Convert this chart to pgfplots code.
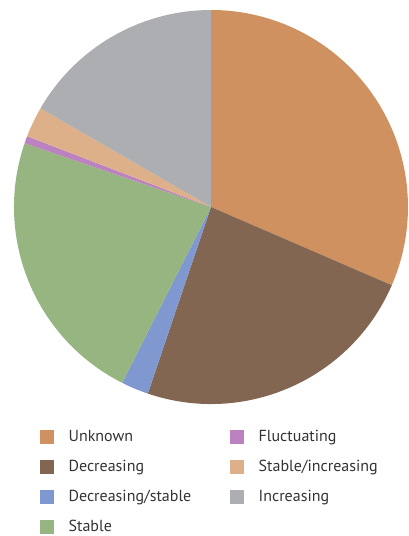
\documentclass[border=0pt]{standalone}
\usepackage{pgfplots}
\pgfplotsset{compat=1.18}
\usepackage{fontspec}
\setmainfont{PT Sans}
\definecolor{cUnknown}{HTML}{D09160}
\definecolor{cDecr}{HTML}{836651}
\definecolor{cDecrStable}{HTML}{7F98CF}
\definecolor{cStable}{HTML}{97B581}
\definecolor{cFluct}{HTML}{BC82BF}
\definecolor{cStableIncr}{HTML}{DEB08A}
\definecolor{cIncr}{HTML}{ADAEB2}
\definecolor{ctext}{HTML}{333333}
% share (percent) of each slice, clockwise from 12 o'clock
% Unknown 31.5, Decreasing 23.7, Decreasing/stable 2.25, Stable 22.8,
% Fluctuating 0.6, Stable/increasing 2.5, Increasing 16.65
\newcommand{\slice}[3]{%
  \pgfmathsetmacro\aA{90-3.6*(#1)}%
  \pgfmathsetmacro\aB{90-3.6*(#1+#2)}%
  \edef\tmp{\noexpand\fill[#3] (axis cs:0,0) -- (axis cs:{cos(\aA)},{sin(\aA)}) arc[start angle=\aA, end angle=\aB, radius=197bp] -- cycle;}%
  \tmp}
\begin{document}
\begin{tikzpicture}
\useasboundingbox (0,0) rectangle (409bp,536bp);
\begin{axis}[
  hide axis, disabledatascaling,
  x=197bp, y=197bp,
  xmin=-1, xmax=1, ymin=-1, ymax=1,
  anchor=origin, at={(211bp,329bp)},
  clip=false,
  legend columns=2,
  legend style={draw=none, fill=none, font=\fontsize{16bp}{19bp}\selectfont\color{ctext},
    at={(0.066,-0.062)}, anchor=north west, inner sep=0pt,
    row sep=13bp,
    /tikz/every odd column/.append style={column sep=13bp},
    /tikz/every even column/.append style={column sep=37bp}},
  legend cell align=left,
  legend image code/.code={\fill[#1] (0bp,-6.5bp) rectangle (13bp,6.5bp);},
]
\slice{0}{31.5}{cUnknown}
\slice{31.5}{23.7}{cDecr}
\slice{55.2}{2.25}{cDecrStable}
\slice{57.45}{22.8}{cStable}
\slice{80.25}{0.6}{cFluct}
\slice{80.85}{2.5}{cStableIncr}
\slice{83.35}{16.65}{cIncr}
\addlegendimage{cUnknown}\addlegendentry{Unknown}
\addlegendimage{cFluct}\addlegendentry{Fluctuating}
\addlegendimage{cDecr}\addlegendentry{Decreasing}
\addlegendimage{cStableIncr}\addlegendentry{Stable/increasing}
\addlegendimage{cDecrStable}\addlegendentry{Decreasing/stable}
\addlegendimage{cIncr}\addlegendentry{Increasing}
\addlegendimage{cStable}\addlegendentry{Stable}
\end{axis}
\end{tikzpicture}
\end{document}
